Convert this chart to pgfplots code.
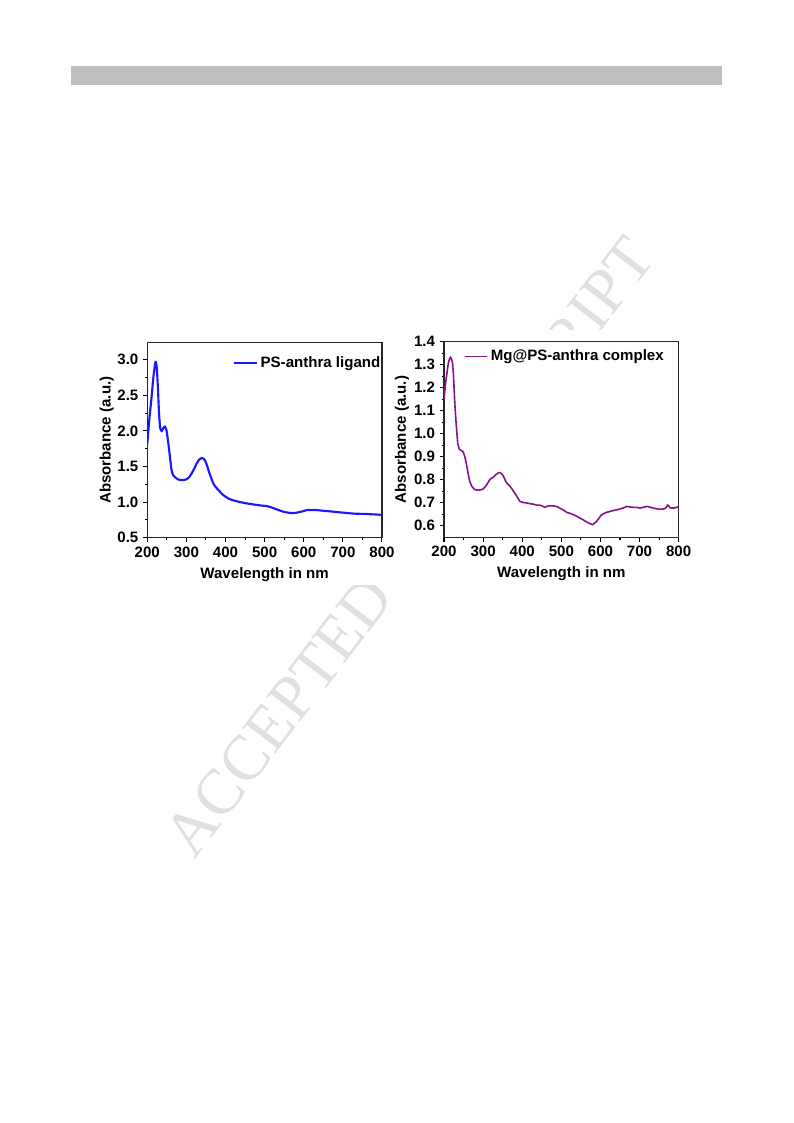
\documentclass[border=0pt]{standalone}
\usepackage{pgfplots}
\pgfplotsset{compat=1.18}
\usepackage{fontspec}
\setmainfont{Liberation Sans}
\newfontfamily\wmfont{Liberation Serif}
\definecolor{ligblue}{RGB}{25,25,255}
\definecolor{mgpurple}{RGB}{135,20,135}
\definecolor{barg}{RGB}{191,191,191}

\pgfplotstableread{
wl A
200 1.82
205 2.15
211 2.48
216 2.78
221 2.97
224 2.90
227 2.62
230 2.25
233 2.04
237 2.00
241 2.04
245 2.06
249 2.01
253 1.86
257 1.68
262 1.45
266 1.38
271 1.35
278 1.32
285 1.31
293 1.31
300 1.32
307 1.35
313 1.40
320 1.47
326 1.54
333 1.60
339 1.62
344 1.61
348 1.58
353 1.51
358 1.42
364 1.33
369 1.26
375 1.21
382 1.17
390 1.12
399 1.08
408 1.05
416 1.03
430 1.01
446 0.99
462 0.975
480 0.96
495 0.95
505 0.945
515 0.93
525 0.91
535 0.89
548 0.865
560 0.852
570 0.846
580 0.850
590 0.862
600 0.875
608 0.888
620 0.888
633 0.888
650 0.878
667 0.870
685 0.860
701 0.852
718 0.843
735 0.836
752 0.835
769 0.830
785 0.826
800 0.820
}\ligand

\pgfplotstableread{
wl A
200 1.147
204 1.22
208 1.27
211 1.306
214 1.325
217 1.332
220 1.320
222 1.306
224 1.26
226 1.19
228 1.12
231 1.045
235 0.959
239 0.933
243 0.928
248 0.923
251 0.912
254 0.895
257 0.870
260 0.843
263 0.815
266 0.792
271 0.772
277 0.759
282 0.756
288 0.755
294 0.756
299 0.759
304 0.767
309 0.778
314 0.792
318 0.803
323 0.808
328 0.814
332 0.822
336 0.826
340 0.831
343 0.831
346 0.828
350 0.821
354 0.808
358 0.792
363 0.781
369 0.771
375 0.757
381 0.742
387 0.726
394 0.706
403 0.701
412 0.699
420 0.696
428 0.694
437 0.690
444 0.690
450 0.687
458 0.680
464 0.685
471 0.687
480 0.686
488 0.684
495 0.678
501 0.672
507 0.667
514 0.658
522 0.654
531 0.648
540 0.641
548 0.633
556 0.626
565 0.616
572 0.610
580 0.605
585 0.611
590 0.619
596 0.632
601 0.645
607 0.652
615 0.658
624 0.662
632 0.666
641 0.669
650 0.673
658 0.677
667 0.684
675 0.682
684 0.680
692 0.680
701 0.677
709 0.680
718 0.684
727 0.681
735 0.677
743 0.674
752 0.672
760 0.673
765 0.675
769 0.682
772 0.690
775 0.686
778 0.678
785 0.677
791 0.678
796 0.681
800 0.684
}\complex

\begin{document}
\begin{tikzpicture}
\path[use as bounding box] (0pt,0pt) rectangle (594.75pt,842.25pt);
% header bar
\fill[barg] (53.25pt,778.5pt) rectangle (541.5pt,792.75pt);
% watermark
\node[anchor=base west, inner sep=0pt, rotate=52.4, text=black!12,
      font=\wmfont\fontsize{48}{52}\selectfont] at (145.5pt,197pt) {ACCEPTED MANUSCRIPT};
% opaque figure background
\fill[white] (67.5pt,403.5pt) rectangle (525pt,594.75pt);

\pgfplotsset{
  myax/.style={
    scale only axis,
    width=176pt,
    anchor=south west,
    xmin=200, xmax=800,
    xtick={200,300,...,800},
    minor x tick num=1,
    minor y tick num=1,
    tick pos=left,
    tick align=outside,
    major tick length=3.2pt,
    minor tick length=1.8pt,
    every tick/.style={black, line width=0.8pt},
    axis line style={line width=0.9pt, black!85},
    font=\bfseries\fontsize{11.3}{13}\selectfont,
    ticklabel style={font=\bfseries\fontsize{11.3}{13}\selectfont},
    /pgf/number format/assume math mode=true,
    yticklabel style={/pgf/number format/.cd, fixed, fixed zerofill, precision=1},
    xlabel={Wavelength in nm},
    ylabel={Absorbance (a.u.)},
    xlabel style={at={(axis description cs:0.5,0)}, anchor=center, yshift=-27.5pt},
    legend cell align=left,
  }
}

\begin{axis}[myax,
  at={(110.475pt,438.975pt)},
  height=146.25pt,
  ymin=0.5, ymax=3.24,
  ytick={0.5,1.0,...,3.0},
  ylabel style={at={(axis description cs:0,0.5)}, anchor=center, yshift=30.4pt},
  legend style={at={(axis description cs:1,1)}, anchor=north east, draw=none, fill=none,
    inner sep=0pt, yshift=-8.5pt, xshift=1pt, font=\bfseries\fontsize{11.3}{13}\selectfont},
  legend image code/.code={\draw[#1] (0pt,0pt) -- (17.5pt,0pt);},
]
\addplot[ligblue, line width=1.6pt, smooth, tension=0.4] table[x=wl,y=A] {\ligand};
\addlegendentry{PS-anthra ligand}
\end{axis}

\begin{axis}[myax,
  at={(333pt,439.275pt)},
  height=146.7pt,
  ymin=0.55, ymax=1.4,
  ytick={0.6,0.7,...,1.4},
  ylabel style={at={(axis description cs:0,0.5)}, anchor=center, yshift=31.5pt},
  legend style={at={(axis description cs:1,1)}, anchor=north east, draw=none, fill=none,
    inner sep=0pt, yshift=-4pt, xshift=-9pt, font=\bfseries\fontsize{11.3}{13}\selectfont},
  legend image code/.code={\draw[#1] (0pt,0pt) -- (17pt,0pt);},
]
\addplot[mgpurple, line width=1.2pt] table[x=wl,y=A] {\complex};
\addlegendentry{Mg@PS-anthra complex}
\end{axis}
\end{tikzpicture}
\end{document}
